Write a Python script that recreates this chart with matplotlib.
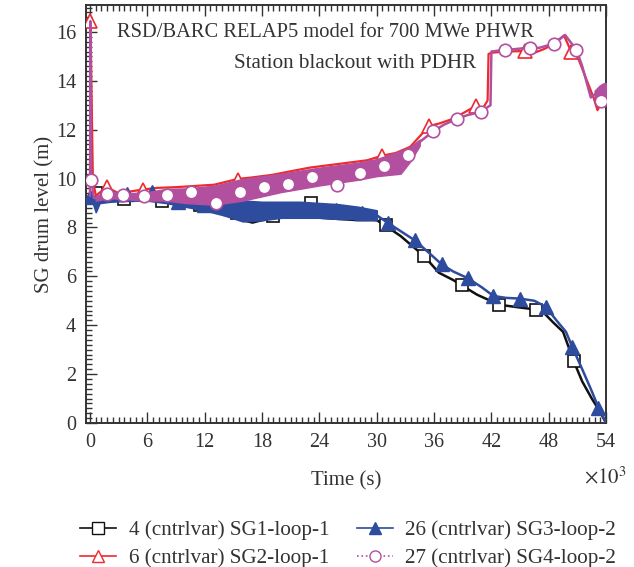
import numpy as np
import matplotlib
matplotlib.use("Agg")
import matplotlib.pyplot as plt
import matplotlib.ticker as mticker
from matplotlib.lines import Line2D

plt.rcParams["font.family"] = ["Liberation Serif", "DejaVu Serif"]
plt.rcParams["mathtext.fontset"] = "stix"

BLACK = "#111111"
RED = "#ee2a2e"
BLUE = "#2e4c9e"
PURPLE = "#b24f9e"
INK = "#333333"

# ---- SG1 (black, open squares), time in 10^3 s ----
sg1_t = [0, 0.3, 0.5, 1, 3, 6, 9, 12, 14, 16, 17, 18, 20, 22, 24, 26, 28, 30,
         31.0, 32.5, 34.0, 34.96, 36.5, 38.0, 38.9, 40.5, 42.8, 44.5, 46.7,
         47.5, 48.5, 49.5, 50.6, 51.5, 52.5, 53.3, 54.0]
sg1_l = [9.2, 9.3, 9.2, 9.3, 9.2, 9.15, 9.0, 8.8, 8.55, 8.3, 8.2, 8.3, 8.4,
         8.4, 8.4, 8.35, 8.3, 8.3,
         8.05, 7.65, 7.15, 6.83, 6.15, 5.85, 5.63, 5.25, 4.84, 4.75, 4.64,
         4.5, 4.1, 3.73, 2.54, 1.7, 1.0, 0.5, 0.0]
sg1_mt = [0.6, 3.6, 7.5, 11.5, 15.4, 19.2, 23.15, 27.1, 31.0, 34.96, 38.9,
          42.8, 46.7, 50.6]
sg1_ml = [9.4, 9.15, 9.1, 8.9, 8.6, 8.49, 9.0, 8.6, 8.11, 6.83, 5.63, 4.84,
          4.64, 2.54]

# ---- SG2 (red, open triangles) ----
sg2_t = [0, 0.05, 0.3, 0.6, 1.75, 3, 5.5, 7, 9, 11, 13, 15.5, 17, 19, 21, 23,
         25, 27, 29, 30.6, 32, 33.5, 35.5, 36.5, 38, 40.4, 41.0, 41.6, 41.7,
         42.0, 43.5, 45.5, 46.5, 47.5, 48.5, 49.6, 50.35, 51.0, 52.0, 52.7,
         53.1, 53.5, 54]
sg2_l = [9.3, 16.45, 10.0, 9.3, 9.65, 9.4, 9.55, 9.62, 9.65, 9.7, 9.75, 9.99,
         10.05, 10.15, 10.3, 10.45, 10.55, 10.65, 10.75, 10.94, 11.05, 11.3,
         12.16, 12.25, 12.45, 12.98, 12.8, 13.2, 15.1, 15.15, 15.2, 15.22,
         15.15, 15.3, 15.5, 15.85, 15.2, 15.0, 14.0, 13.3, 12.8, 13.1, 13.0]
sg2_mt = [0.0, 1.75, 5.5, 15.5, 30.6, 35.5, 40.4, 45.5, 50.35]
sg2_ml = [16.45, 9.65, 9.55, 9.96, 10.94, 12.16, 12.98, 15.22, 15.2]

# ---- SG3 (blue, filled triangles) ----
sg3_band_t = [0.3, 0.6, 1, 2, 4, 6, 8, 10, 12, 14, 16, 18, 20, 22, 24, 26, 28, 30]
sg3_band_hi = [9.3, 9.25, 9.3, 9.35, 9.35, 9.35, 9.25, 9.15, 9.1, 9.05, 9.1,
               9.05, 9.05, 9.05, 9.0, 8.95, 8.85, 8.7]
sg3_band_lo = [9.0, 8.63, 9.0, 9.05, 9.1, 9.1, 9.0, 8.85, 8.7, 8.5, 8.25, 8.3,
               8.4, 8.4, 8.4, 8.35, 8.35, 8.3]
sg3_t = [0, 0.3, 30, 31.2, 32.5, 34.0, 35.5, 36.8, 38, 39.5, 41, 42.2, 43.5,
         45.0, 46.5, 47.7, 48.8, 49.8, 50.46, 51.5, 52.5, 53.2, 54]
sg3_l = [9.24, 9.2, 8.5, 8.18, 7.85, 7.47, 6.95, 6.49, 6.2, 5.93, 5.55, 5.2,
         5.12, 5.09, 5.0, 4.75, 4.2, 3.73, 3.11, 2.2, 1.3, 0.63, 0.0]
sg3_mt = [0.0, 3.9, 6.5, 9.2, 11.95, 14.7, 17.45, 20.2, 22.95, 25.7, 28.45,
          31.2, 34.0, 36.8, 39.5, 42.2, 45.0, 47.7, 50.46, 53.2]
sg3_ml = [9.24, 9.37, 9.47, 9.05, 8.9, 8.8, 8.7, 8.75, 8.75, 8.7, 8.6, 8.18,
          7.47, 6.49, 5.93, 5.2, 5.09, 4.75, 3.11, 0.63]

# ---- SG4 (purple, open circles) ----
sg4_band_t = [0.6, 2, 4, 6, 8, 10, 13, 16, 20, 24, 28, 30, 32.5, 33.5, 34.5]
sg4_band_hi = [9.3, 9.45, 9.4, 9.45, 9.58, 9.6, 9.71, 9.99, 10.2, 10.45,
               10.65, 10.8, 11.14, 11.3, 11.6]
sg4_band_lo = [9.1, 9.2, 9.15, 9.1, 9.1, 9.0, 8.93, 9.1, 9.45, 9.72, 9.95,
               10.1, 10.2, 10.7, 11.35]
sg4_t = [0, 0.04, 0.14, 0.4, 0.6, 34.5, 35.9, 37, 38.35, 39.5, 40.9, 41.5,
         41.9, 42.0, 43.4, 44.5, 46.0, 47, 48.5, 49.7, 50.9, 51.5, 52.4, 53.0,
         53.5, 54]
sg4_l = [9.3, 16.45, 9.96, 9.2, 9.2, 11.5, 11.93, 12.2, 12.44, 12.6, 12.73,
         12.9, 13.0, 15.2, 15.27, 15.3, 15.36, 15.35, 15.52, 15.88, 15.27,
         14.6, 13.32, 13.5, 13.18, 13.8]
sg4_end_t = [52.8, 53.3, 53.7, 54]
sg4_end_lo = [13.1, 13.0, 13.0, 13.1]
sg4_end_hi = [13.6, 13.8, 13.9, 13.9]
sg4_mt = [0.14, 1.8, 3.5, 5.6, 8.1, 10.6, 13.2, 15.7, 18.25, 20.7, 23.25,
          25.8, 28.3, 30.8, 33.3, 35.9, 38.35, 40.9, 43.4, 46.0, 48.5, 50.9, 53.5]
sg4_ml = [9.96, 9.35, 9.31, 9.27, 9.33, 9.47, 9.0, 9.47, 9.65, 9.76, 10.05,
          9.74, 10.22, 10.53, 10.98, 11.93, 12.44, 12.73, 15.27, 15.36, 15.52,
          15.27, 13.18]

labels = ["4 (cntrlvar) SG1-loop-1", "6 (cntrlvar) SG2-loop-1",
          "26 (cntrlvar) SG3-loop-2", "27 (cntrlvar) SG4-loop-2"]

fig = plt.figure(figsize=(6.34, 5.67), dpi=100)
ax = fig.add_axes([0.1356, 0.254, 0.8204, 0.737])

MS = 8.5
# SG1
ax.plot(sg1_t, sg1_l, color=BLACK, lw=1.8, zorder=2)
ax.plot(sg1_mt, sg1_ml, ls="none", marker="s", ms=MS, mfc="white",
        mec=BLACK, mew=1.2, zorder=2)
# SG2
ax.plot(sg2_t, sg2_l, color=RED, lw=1.6, zorder=3)
ax.plot(sg2_mt, sg2_ml, ls="none", marker="^", ms=MS + 1.5, mfc="white",
        mec=RED, mew=1.2, zorder=3)
# SG3
ax.fill_between(sg3_band_t, sg3_band_lo, sg3_band_hi, color=BLUE, lw=1.2,
                ec=BLUE, zorder=4)
ax.plot(sg3_t[:2], sg3_l[:2], color=BLUE, lw=1.6, zorder=4)
ax.plot(sg3_t[2:], sg3_l[2:], color=BLUE, lw=1.8, zorder=4)
ax.plot(sg3_mt, sg3_ml, ls="none", marker="^", ms=MS + 1.5, mfc=BLUE,
        mec=BLUE, mew=1.0, zorder=4)
# SG4
ax.fill_between(sg4_band_t, sg4_band_lo, sg4_band_hi, color=PURPLE, lw=1.0,
                ec=PURPLE, zorder=5)
ax.fill_between(sg4_end_t, sg4_end_lo, sg4_end_hi, color=PURPLE, lw=1.0,
                ec=PURPLE, zorder=5)
ax.plot(sg4_t[:5], sg4_l[:5], color=PURPLE, lw=1.6, zorder=5)
ax.plot(sg4_t[5:], sg4_l[5:], color=PURPLE, lw=1.8, zorder=5)
ax.plot(sg4_mt, sg4_ml, ls="none", marker="o", ms=MS + 0.5, mfc="white",
        mec=PURPLE, mew=1.2, zorder=6)

ax.set_xlim(-0.42, 54)
ax.set_ylim(0, 17.1)
ax.xaxis.set_major_locator(mticker.MultipleLocator(6))
ax.xaxis.set_minor_locator(mticker.MultipleLocator(0.6))
ax.yaxis.set_major_locator(mticker.MultipleLocator(2))
ax.yaxis.set_minor_locator(mticker.MultipleLocator(0.2))
ax.tick_params(which="both", direction="in", top=True, right=False,
               labelsize=14.5, colors=INK, width=1.0, pad=7)
ax.tick_params(which="major", length=8)
ax.tick_params(which="minor", length=4)
for s in ax.spines.values():
    s.set_linewidth(1.4)
    s.set_color(INK)

ax.set_xlabel("Time (s)", fontsize=15, color=INK, labelpad=14)
ax.set_ylabel("SG drum level (m)", fontsize=15, color=INK, labelpad=1)
fig.text(0.955, 0.157, r"$\times10^3$", fontsize=15, color=INK, ha="center",
         va="center")

ax.text(0.46, 0.935, "RSD/BARC RELAP5 model for 700 MWe PHWR",
        transform=ax.transAxes, ha="center", va="center", fontsize=14.8,
        color=INK)
ax.text(0.517, 0.861, "Station blackout with PDHR", transform=ax.transAxes,
        ha="center", va="center", fontsize=15.2, color=INK)

handles = [
    Line2D([], [], color=BLACK, lw=1.2, marker="s", ms=8, mfc="white", mec=BLACK),
    Line2D([], [], color=RED, lw=1.2, marker="^", ms=9, mfc="white", mec=RED),
    Line2D([], [], color=BLUE, lw=1.2, marker="^", ms=9, mfc=BLUE, mec=BLUE),
    Line2D([], [], color=PURPLE, lw=1.2, ls=":", marker="o", ms=8,
           mfc="white", mec=PURPLE),
]
fig.legend(handles, labels, loc="center", bbox_to_anchor=(0.549, 0.040),
           ncol=2, frameon=False, fontsize=15.2, handlelength=1.7,
           columnspacing=1.3, labelspacing=0.38, handletextpad=0.6,
           labelcolor=INK)

fig.savefig("out.png", dpi=100)
